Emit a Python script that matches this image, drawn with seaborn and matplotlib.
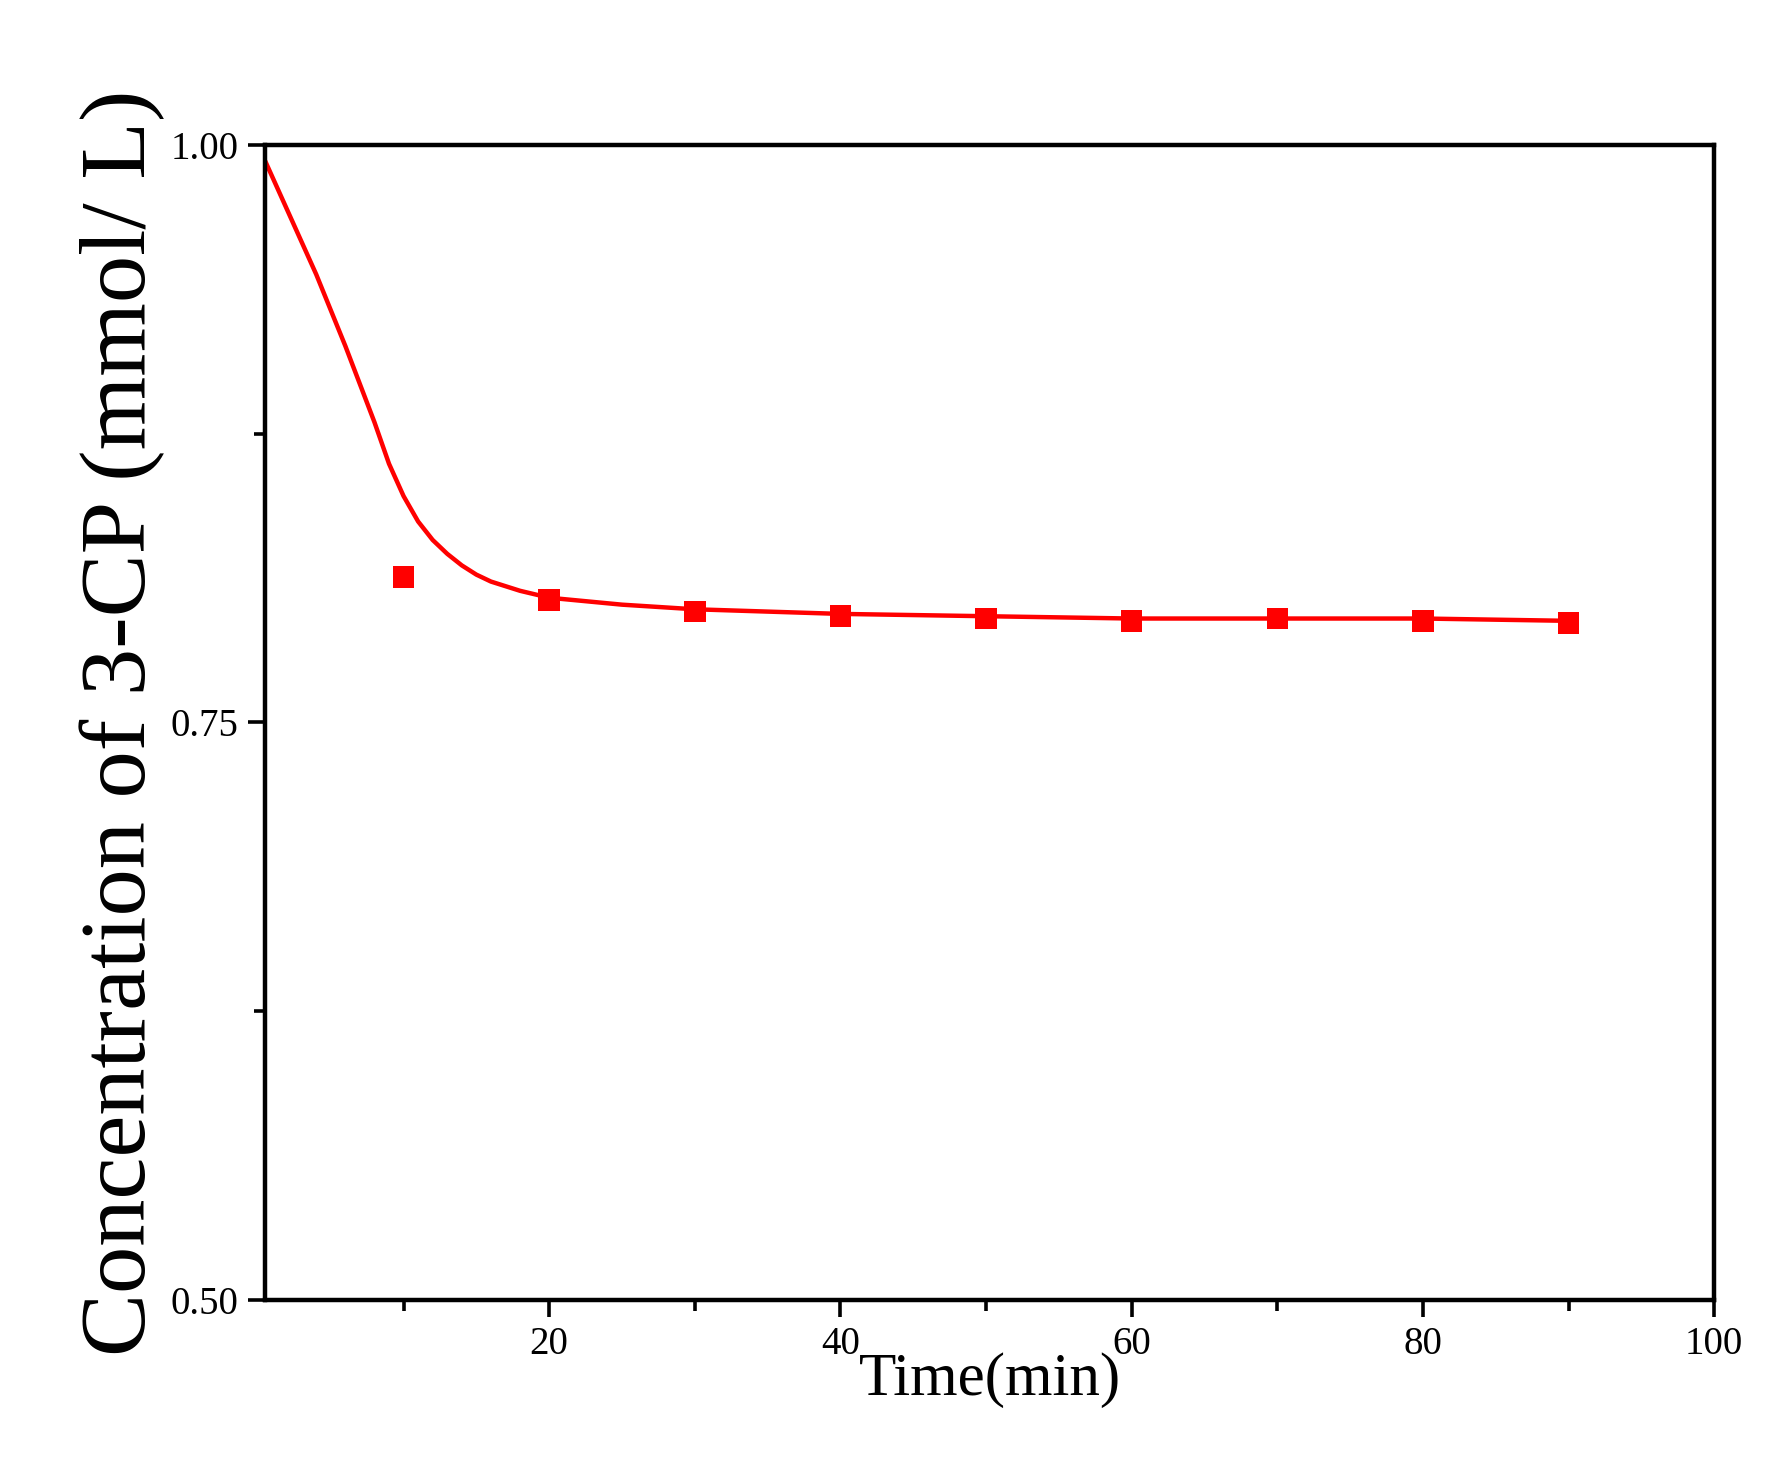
import seaborn as sns
import matplotlib.pyplot as plt

# measured points
time_min = [10, 20, 30, 40, 50, 60, 70, 80, 90]
conc = [0.813, 0.803, 0.798, 0.796, 0.795, 0.794, 0.795, 0.794, 0.793]

# fitted curve
fit_x = [0.5, 2, 4, 6, 8, 9, 10, 11, 12, 13, 14, 15, 16, 17, 18, 20, 25, 30, 40, 50, 60, 70, 80, 90]
fit_y = [0.993, 0.972, 0.944, 0.913, 0.880, 0.862, 0.848, 0.837, 0.829, 0.823, 0.818, 0.814, 0.811, 0.809, 0.807, 0.804, 0.801, 0.799, 0.797, 0.796, 0.795, 0.795, 0.795, 0.794]

sns.set_style("ticks")
plt.rcParams['font.family'] = ['Liberation Serif', 'DejaVu Serif']

fig = plt.figure(figsize=(8.9, 7.32), dpi=200)
ax = fig.add_axes([0.149, 0.112, 0.814, 0.789])

sns.lineplot(x=fit_x, y=fit_y, ax=ax, color='#ff0000', linewidth=1.6)
sns.scatterplot(x=time_min, y=conc, ax=ax, color='#ff0000', marker='s', s=60, edgecolor='none')

ax.set_xlim(0.5, 100)
ax.set_ylim(0.5, 1.0)
ax.set_xticks([20, 40, 60, 80, 100])
ax.set_xticks([10, 30, 50, 70, 90], minor=True)
ax.set_yticks([0.5, 0.75, 1.0])
ax.set_yticklabels(['0.50', '0.75', '1.00'])
ax.set_yticks([0.625, 0.875], minor=True)
ax.tick_params(which='both', direction='out', width=1.3, labelsize=14, colors='black')
ax.tick_params(which='major', length=6)
ax.tick_params(which='minor', length=4)
for s in ax.spines.values():
    s.set_linewidth(1.6)
    s.set_color('black')

ax.set_xlabel('Time(min)', fontsize=22, labelpad=-4, color='black')
ax.set_ylabel('Concentration of 3-CP (mmol/ L)', fontsize=34, labelpad=2, color='black')

fig.savefig('out.png', dpi=200)
